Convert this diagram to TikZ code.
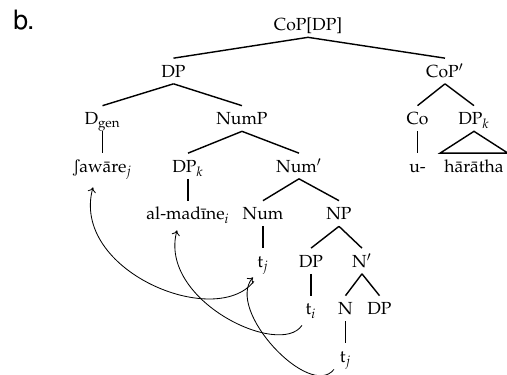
\documentclass[tikz,border=0pt]{standalone}
\usepackage[T1]{fontenc}
\usepackage{mathpazo}
\usepackage{tipa}
\usetikzlibrary{arrows.meta}
\begin{document}
\begin{tikzpicture}[x=0.6pt,y=-0.6pt,
  lab/.style={font=\fontsize{10.5}{12}\selectfont, inner xsep=0pt, inner ysep=2pt,
    text height=9.4pt, text depth=1.6pt, anchor=base},
  treeline/.style={line width=0.85pt},
  mv/.style={line width=0.5pt, -{To[length=3pt,width=5pt]}}]
\useasboundingbox (0,0) rectangle (507,375);
\node[font=\fontfamily{phv}\fontsize{16}{18}\selectfont, anchor=base west, inner sep=0pt] (lbl) at (13,29.5) {b.};
% tree nodes
\node[lab] (cop) at (308,31) {CoP[DP]};
\node[lab] (dp1) at (173.5,77.5) {DP};
\node[lab] (copb) at (445,77.5) {CoP$'$};
\node[lab] (dgen) at (102.5,125) {D$_{\mathrm{gen}}$};
\node[lab] (nump) at (242,125) {NumP};
\node[lab] (co) at (417.5,125) {Co};
\node[lab] (dpk2) at (474,125) {DP$_k$};
\node[lab] (saw) at (102.5,172.5) {\textesh aw\=are$_j$};
\node[lab] (dpk1) at (188,172.5) {DP$_k$};
\node[lab] (numb) at (299,172.5) {Num$'$};
\node[lab] (u) at (417.5,172.5) {u-};
\node[lab, inner xsep=2.4pt] (har) at (474,172.5) {h\=ar\=atha};
\node[lab] (mad) at (188,220) {al-mad\={\i}ne$_i$};
\node[lab] (num) at (263,220) {Num};
\node[lab] (np) at (339,220) {NP};
\node[lab] (tj1) at (263,267.5) {t$_j$};
\node[lab] (dp3) at (311,267.5) {DP};
\node[lab] (nb) at (362,267.5) {N$'$};
\node[lab] (ti) at (311,315) {t$_i$};
\node[lab] (n) at (345.5,315) {N};
\node[lab] (dp4) at (379.5,315) {DP};
\node[lab] (tj2) at (345.5,362.5) {t$_j$};
% branches
\draw[treeline] (cop.south) -- (dp1.north);
\draw[treeline] (cop.south) -- (copb.north);
\draw[treeline] (dp1.south) -- (dgen.north);
\draw[treeline] (dp1.south) -- (nump.north);
\draw[treeline] (copb.south) -- (co.north);
\draw[treeline] (copb.south) -- (dpk2.north);
\draw[treeline] (dgen.south) -- (saw.north);
\draw[treeline] (nump.south) -- (dpk1.north);
\draw[treeline] (nump.south) -- (numb.north);
\draw[treeline] (co.south) -- (u.north);
\draw[treeline] (dpk2.south) -- (har.north west) -- (har.north east) -- cycle;
\draw[treeline] (dpk1.south) -- (mad.north);
\draw[treeline] (numb.south) -- (num.north);
\draw[treeline] (numb.south) -- (np.north);
\draw[treeline] (num.south) -- (tj1.north);
\draw[treeline] (np.south) -- (dp3.north);
\draw[treeline] (np.south) -- (nb.north);
\draw[treeline] (dp3.south) -- (ti.north);
\draw[treeline] (nb.south) -- (n.north);
\draw[treeline] (nb.south) -- (dp4.north);
\draw[treeline] (n.south) -- (tj2.north);
% movement arrows
\draw[mv] ([shift={(-9,7.5)}]tj1.south) .. controls +(-39,49) and +(-23,83) .. ([shift={(-9.5,8.5)}]saw.south);
\draw[mv] ([shift={(-9,4)}]ti.south) .. controls +(-22,33) and +(-19,70) .. ([shift={(-11,4)}]mad.south);
\draw[mv] ([shift={(-11.5,0.5)}]tj2.south) .. controls +(-24,31) and +(-28,33) .. ([shift={(-10,3.5)}]tj1.south);
\end{tikzpicture}
\end{document}
